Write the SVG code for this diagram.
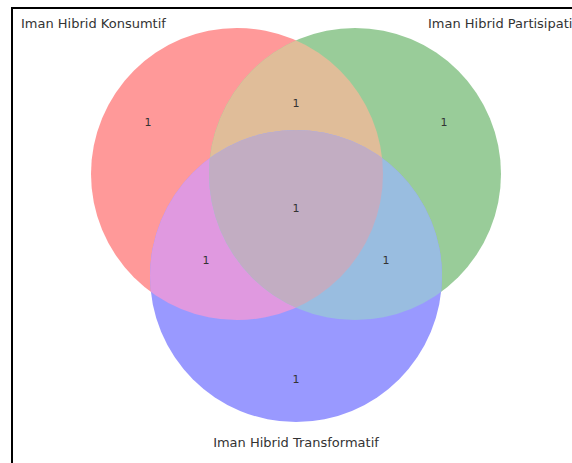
<svg xmlns="http://www.w3.org/2000/svg" width="572" height="463" viewBox="0 0 572 463">
<style>
.lbl{font-family:"DejaVu Sans",sans-serif;font-size:13px;fill:#333}
.num{font-family:"DejaVu Sans",sans-serif;font-size:11px;fill:#333;text-anchor:middle}
</style>
<defs>
<clipPath id="cA"><circle cx="237" cy="174" r="146"/></clipPath>
<clipPath id="cB"><circle cx="355" cy="174" r="146"/></clipPath>
<clipPath id="cC"><circle cx="296" cy="276" r="146"/></clipPath>
</defs>
<rect x="0" y="0" width="572" height="463" fill="#fff"/>
<g id="circles">
<g id="setA"><circle cx="237" cy="174" r="146" fill="#ff9999"/></g>
<g id="setB"><circle cx="355" cy="174" r="146" fill="#99cc99"/></g>
<g id="setC"><circle cx="296" cy="276" r="146" fill="#9999ff"/></g>
<g id="AB" clip-path="url(#cA)"><circle cx="355" cy="174" r="146" fill="#e0bd99"/></g>
<g id="AC" clip-path="url(#cA)"><circle cx="296" cy="276" r="146" fill="#e099e0"/></g>
<g id="BC" clip-path="url(#cB)"><circle cx="296" cy="276" r="146" fill="#99bde0"/></g>
<g id="ABC" clip-path="url(#cA)"><g clip-path="url(#cB)"><circle cx="296" cy="276" r="146" fill="#c2adc2"/></g></g>
</g>
<g id="counts">
<text class="num" x="148" y="126">1</text>
<text class="num" x="296" y="107">1</text>
<text class="num" x="444" y="126">1</text>
<text class="num" x="296" y="212">1</text>
<text class="num" x="206" y="264">1</text>
<text class="num" x="386" y="264">1</text>
<text class="num" x="296" y="383">1</text>
</g>
<g id="labels">
<text class="lbl" x="21" y="28">Iman Hibrid Konsumtif</text>
<text class="lbl" x="428" y="28">Iman Hibrid Partisipatif</text>
<text class="lbl" x="296" y="446.5" text-anchor="middle">Iman Hibrid Transformatif</text>
</g>
<rect id="frame" x="12" y="8" width="580" height="480" fill="none" stroke="#000" stroke-width="2"/>
</svg>
